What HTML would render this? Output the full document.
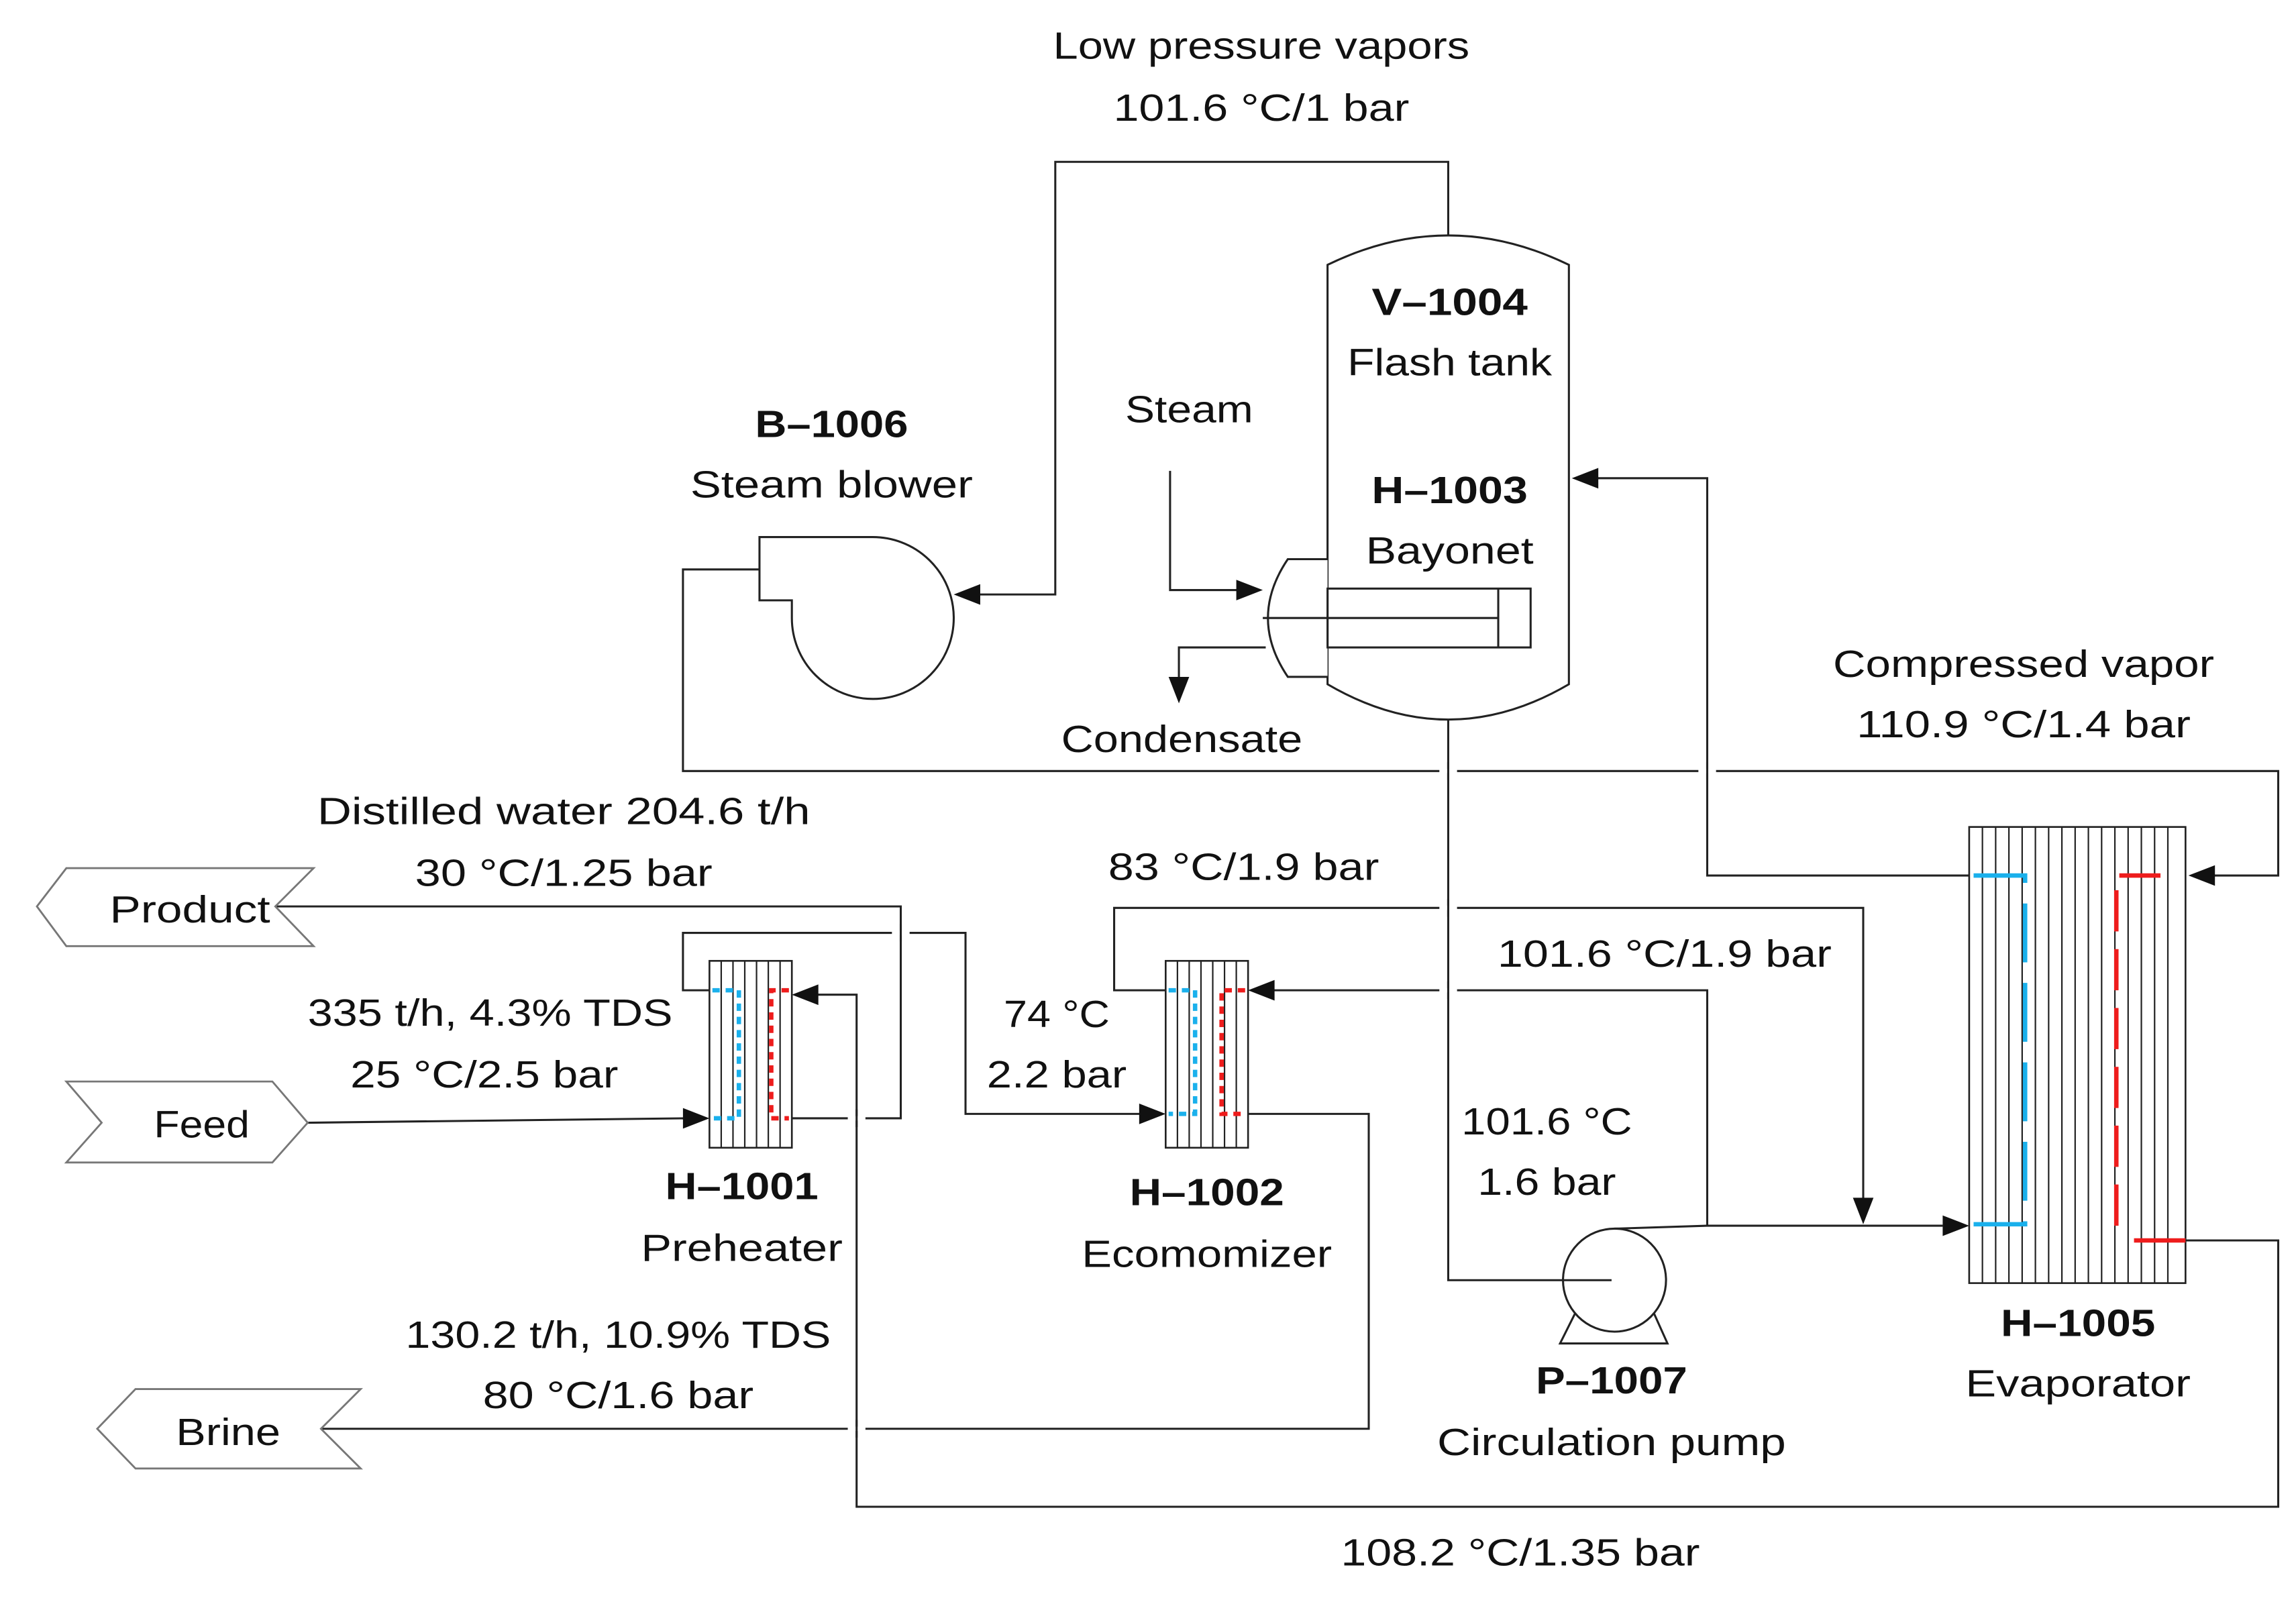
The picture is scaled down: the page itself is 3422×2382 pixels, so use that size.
<!DOCTYPE html>
<html><head><meta charset="utf-8"><style>
html,body{margin:0;padding:0;background:#fff;}
svg{display:block}
text{font-family:"Liberation Sans",sans-serif;font-size:26px;fill:#111;text-anchor:middle}
.b{font-weight:bold}
</style></head><body>
<svg width="3422" height="2382" viewBox="0 0 1560 1086" xmlns="http://www.w3.org/2000/svg">
<g fill="none" stroke="#222" stroke-width="1.4">
<path d="M902,180 Q984,140 1066,180 L1066,465 Q984,513 902,465 Z" fill="#fff"/>
<polyline points="984,160 984,110 717,110 717,404 665,404"/>
<path d="M516,365 L592,365 A55,55 0 1 1 538,420 L538,408 L516,408 Z" fill="#fff"/>
<polyline points="516,387 464,387 464,524 1548,524 1548,595 1503,595"/>
<polyline points="795,320 795,401 842,401"/>
<path d="M902,380 L875,380 Q848,420 875,460 L902,460" fill="#fff"/>
<rect x="902" y="400" width="138" height="40"/>
<line x1="858" y1="420" x2="1018" y2="420"/>
<line x1="1018" y1="400" x2="1018" y2="440"/>
<polyline points="860,440 801,440 801,463"/>
<polyline points="984,489 984,870 1095,870"/>
<circle cx="1097" cy="870" r="35" fill="none"/>
<polyline points="1070,893 1060,913 1133,913 1124,893"/>
<polyline points="1097,835 1160,833 1320,833"/>
<polyline points="1160,833 1160,673 864,673"/>
<polyline points="1338,595 1160,595 1160,325 1084,325"/>
<polyline points="792,673 757,673 757,617 1266,617 1266,816"/>
<polyline points="482,673 464,673 464,634 656,634 656,757 776,757"/>
<polyline points="187,616 612,616 612,760 538,760"/>
<polyline points="209,763 466,760"/>
<polyline points="848,757 930,757 930,971 218,971"/>
<polyline points="1485,843 1548,843 1548,1024 582,1024 582,676 554,676"/>
</g>
<g stroke="#fff" stroke-width="3">
<line x1="978" y1="524" x2="990" y2="524"/><line x1="1154" y1="524" x2="1166" y2="524"/>
<line x1="978" y1="617" x2="990" y2="617"/>
<line x1="606" y1="634" x2="618" y2="634"/>
<line x1="576" y1="760" x2="588" y2="760"/><line x1="576" y1="971" x2="588" y2="971"/>
<line x1="978" y1="673" x2="990" y2="673"/>
</g>
<g stroke="#222" stroke-width="1.4">
<line x1="984" y1="518" x2="984" y2="530"/><line x1="1160" y1="518" x2="1160" y2="530"/>
<line x1="984" y1="611" x2="984" y2="623"/>
<line x1="612" y1="628" x2="612" y2="640"/>
<line x1="582" y1="754" x2="582" y2="766"/><line x1="582" y1="965" x2="582" y2="977"/>
<line x1="984" y1="667" x2="984" y2="679"/>
</g>
<g fill="#111">
<path d="M648,404 L666,397 L666,411 Z"/>
<path d="M1068,325 L1086,318 L1086,332 Z"/>
<path d="M1487,595 L1505,588 L1505,602 Z"/>
<path d="M858,401 L840,394 L840,408 Z"/>
<path d="M801,478 L794,460 L808,460 Z"/>
<path d="M1338,833 L1320,826 L1320,840 Z"/>
<path d="M1266,832 L1259,814 L1273,814 Z"/>
<path d="M848,673 L866,666 L866,680 Z"/>
<path d="M792,757 L774,750 L774,764 Z"/>
<path d="M482,760 L464,753 L464,767 Z"/>
<path d="M538,676 L556,669 L556,683 Z"/>
</g>
<g stroke="#222" stroke-width="1.2" fill="#fff">
<rect x="482" y="653" width="56" height="127"/>
<rect x="792" y="653" width="56" height="127"/>
<rect x="1338" y="562" width="147" height="310"/>
</g>
<g stroke="#222" stroke-width="1">
<path d="M490,653V780M498,653V780M506,653V780M514,653V780M522,653V780M530,653V780"/>
<path d="M800,653V780M808,653V780M816,653V780M824,653V780M832,653V780M840,653V780"/>
<path d="M1347,562V872M1356,562V872M1365,562V872M1374,562V872M1383,562V872M1392,562V872M1401,562V872M1410,562V872M1419,562V872M1428,562V872M1437,562V872M1446,562V872M1455,562V872M1464,562V872M1473,562V872"/>
</g>
<g fill="none" stroke-width="3">
<polyline points="484,673 502,673 502,760 484,760" stroke="#1ab0ec" stroke-dasharray="5,4"/>
<polyline points="536,673 524,673 524,760 536,760" stroke="#ee1c1c" stroke-dasharray="5,4"/>
<polyline points="794,673 812,673 812,757 794,757" stroke="#1ab0ec" stroke-dasharray="5,4"/>
<polyline points="846,673 830,673 830,757 846,757" stroke="#ee1c1c" stroke-dasharray="5,4"/>
<polyline points="1341,595 1376,595 1376,832 1341,832" stroke="#1ab0ec" stroke-dasharray="40,14"/>
<polyline points="1468,595 1438,595 1438,843" stroke="#ee1c1c" stroke-dasharray="28,12"/>
<line x1="1450" y1="843" x2="1485" y2="843" stroke="#ee1c1c"/>
</g>
<g fill="#fff" stroke="#777" stroke-width="1.3">
<polygon points="25,616 45,590 213,590 187,616 213,643 45,643"/>
<polygon points="45,735 185,735 209,763 185,790 45,790 69,763"/>
<polygon points="66,971 92,944 245,944 218,971 245,998 92,998"/>
</g>
<text x="857" y="40" textLength="283" lengthAdjust="spacingAndGlyphs">Low pressure vapors</text>
<text x="857" y="82" textLength="201" lengthAdjust="spacingAndGlyphs">101.6 °C/1 bar</text>
<text class="b" x="985" y="214" textLength="106" lengthAdjust="spacingAndGlyphs">V–1004</text>
<text x="985" y="255" textLength="139" lengthAdjust="spacingAndGlyphs">Flash tank</text>
<text x="808" y="287" textLength="87" lengthAdjust="spacingAndGlyphs">Steam</text>
<text class="b" x="565" y="297" textLength="104" lengthAdjust="spacingAndGlyphs">B–1006</text>
<text x="565" y="338" textLength="192" lengthAdjust="spacingAndGlyphs">Steam blower</text>
<text class="b" x="985" y="342" textLength="106" lengthAdjust="spacingAndGlyphs">H–1003</text>
<text x="985" y="383" textLength="114" lengthAdjust="spacingAndGlyphs">Bayonet</text>
<text x="1375" y="460" textLength="259" lengthAdjust="spacingAndGlyphs">Compressed vapor</text>
<text x="1375" y="501" textLength="227" lengthAdjust="spacingAndGlyphs">110.9 °C/1.4 bar</text>
<text x="803" y="511" textLength="164" lengthAdjust="spacingAndGlyphs">Condensate</text>
<text x="383" y="560" textLength="335" lengthAdjust="spacingAndGlyphs">Distilled water 204.6 t/h</text>
<text x="383" y="602" textLength="202" lengthAdjust="spacingAndGlyphs">30 °C/1.25 bar</text>
<text x="845" y="598" textLength="184" lengthAdjust="spacingAndGlyphs">83 °C/1.9 bar</text>
<text x="129" y="627" textLength="109" lengthAdjust="spacingAndGlyphs">Product</text>
<text x="1131" y="657" textLength="227" lengthAdjust="spacingAndGlyphs">101.6 °C/1.9 bar</text>
<text x="333" y="697" textLength="248" lengthAdjust="spacingAndGlyphs">335 t/h, 4.3% TDS</text>
<text x="718" y="698" textLength="72" lengthAdjust="spacingAndGlyphs">74 °C</text>
<text x="329" y="739" textLength="182" lengthAdjust="spacingAndGlyphs">25 °C/2.5 bar</text>
<text x="718" y="739" textLength="95" lengthAdjust="spacingAndGlyphs">2.2 bar</text>
<text x="137" y="773" textLength="65" lengthAdjust="spacingAndGlyphs">Feed</text>
<text x="1051" y="771" textLength="116" lengthAdjust="spacingAndGlyphs">101.6 °C</text>
<text x="1051" y="812" textLength="94" lengthAdjust="spacingAndGlyphs">1.6 bar</text>
<text class="b" x="504" y="815" textLength="104" lengthAdjust="spacingAndGlyphs">H–1001</text>
<text class="b" x="820" y="819" textLength="105" lengthAdjust="spacingAndGlyphs">H–1002</text>
<text x="504" y="857" textLength="137" lengthAdjust="spacingAndGlyphs">Preheater</text>
<text x="820" y="861" textLength="170" lengthAdjust="spacingAndGlyphs">Ecomomizer</text>
<text class="b" x="1412" y="908" textLength="105" lengthAdjust="spacingAndGlyphs">H–1005</text>
<text x="420" y="916" textLength="289" lengthAdjust="spacingAndGlyphs">130.2 t/h, 10.9% TDS</text>
<text class="b" x="1095" y="947" textLength="103" lengthAdjust="spacingAndGlyphs">P–1007</text>
<text x="1412" y="949" textLength="153" lengthAdjust="spacingAndGlyphs">Evaporator</text>
<text x="420" y="957" textLength="184" lengthAdjust="spacingAndGlyphs">80 °C/1.6 bar</text>
<text x="155" y="982" textLength="71" lengthAdjust="spacingAndGlyphs">Brine</text>
<text x="1095" y="989" textLength="237" lengthAdjust="spacingAndGlyphs">Circulation pump</text>
<text x="1033" y="1064" textLength="244" lengthAdjust="spacingAndGlyphs">108.2 °C/1.35 bar</text>
</svg>
</body></html>
